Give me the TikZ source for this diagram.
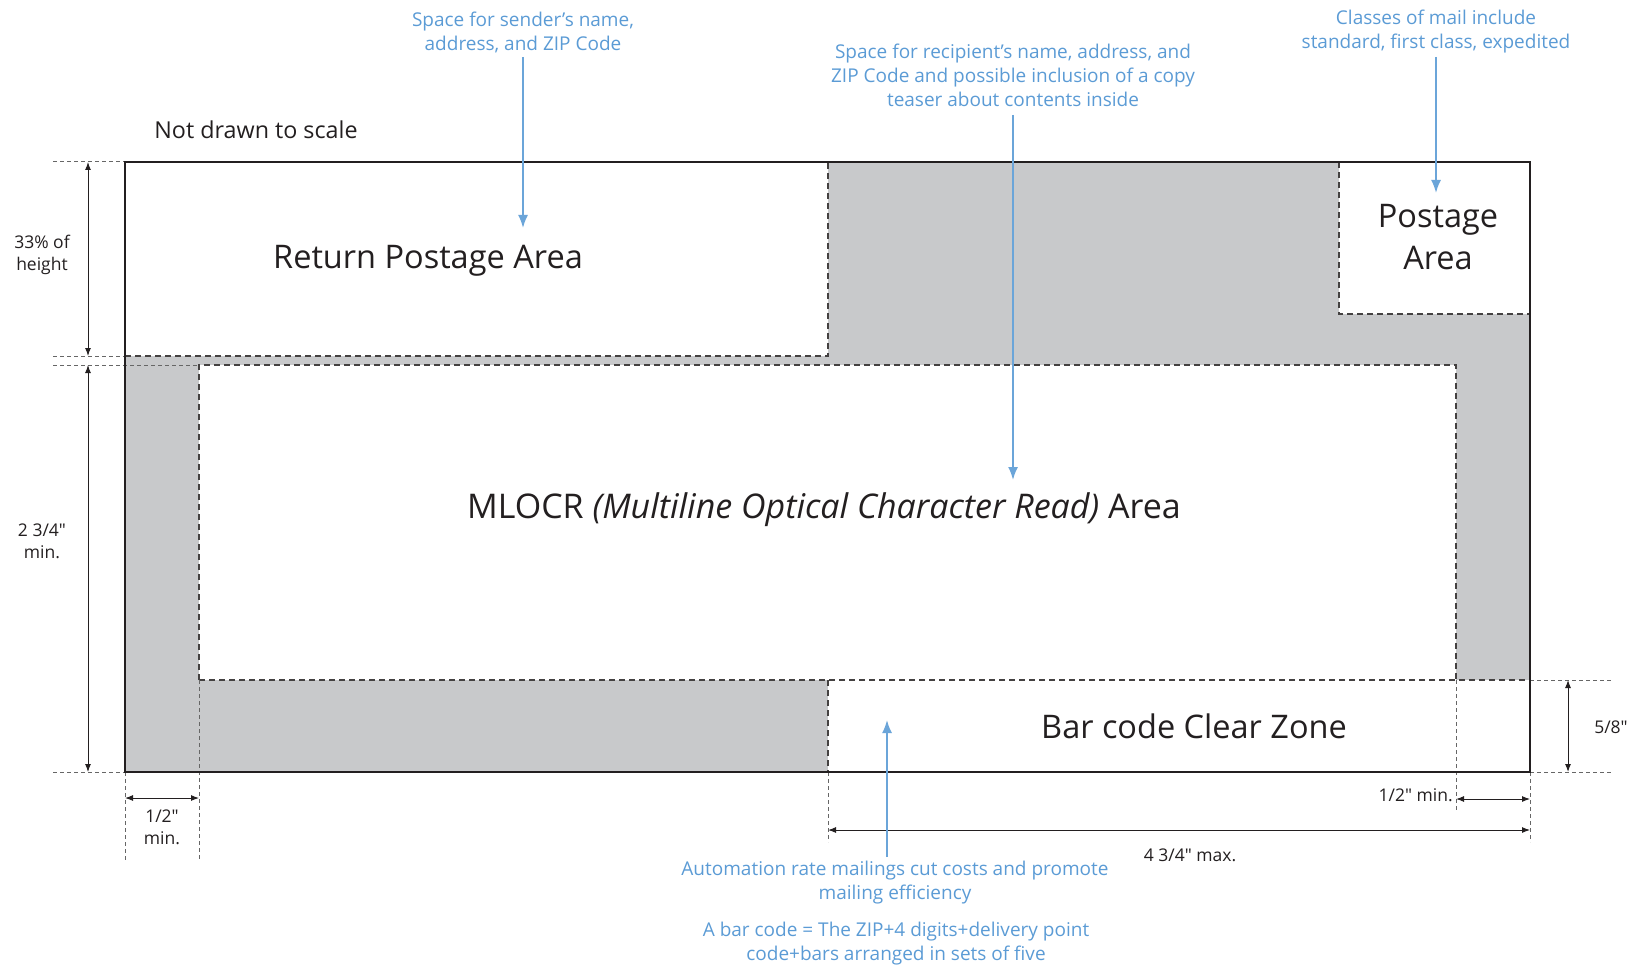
\documentclass[tikz,border=0pt]{standalone}
\usepackage{fontspec}
\newfontfamily\envfont{Open Sans}
\usetikzlibrary{arrows.meta}
\definecolor{envgray}{HTML}{C8C9CB}
\definecolor{noteblue}{HTML}{5B9BD5}
\definecolor{inkblack}{HTML}{231F20}

\begin{document}
\begin{tikzpicture}[x=1pt,y=-1pt,
 every node/.style={align=center,inner sep=0pt},
 zone/.style={font=\envfont\fontsize{32.5}{42}\selectfont,text=inkblack},
 note/.style={font=\envfont\fontsize{19}{24}\selectfont,text=noteblue},
 dimtext/.style={font=\envfont\fontsize{17.5}{22}\selectfont,text=inkblack},
 edge/.style={draw=inkblack,line width=2pt},
 border/.style={draw=inkblack!85,line width=1.2pt,dash pattern=on 6pt off 4pt},
 guide/.style={draw=black!60,line width=1pt,dash pattern=on 4pt off 3pt},
 dim/.style={{Latex[length=8pt,width=6pt]}-{Latex[length=8pt,width=6pt]},draw=inkblack,line width=1pt},
 callout/.style={-{Latex[length=13pt,width=10pt]},draw=noteblue!90,line width=1.8pt}]

\useasboundingbox (0,0) rectangle (1637,965);

\fill[envgray] (125,162) rectangle (1530,772);
\fill[white] (125,162) rectangle (828,356);
\fill[white] (1339,162) rectangle (1530,314);
\fill[white] (199,365) rectangle (1456,680);
\fill[white] (828,680) rectangle (1530,772);

\draw[border] (125,356)--(828,356)--(828,162);
\draw[border] (1339,162)--(1339,314)--(1530,314);
\draw[border] (199,680)--(199,365)--(1456,365)--(1456,680);
\draw[border] (199,680)--(1530,680);
\draw[border] (828,680)--(828,772);

\draw[guide] (53,162)--(125,162);
\draw[guide] (53,356)--(125,356);
\draw[guide] (53,365)--(199,365);
\draw[guide] (53,772)--(125,772);
\draw[guide] (125,772)--(125,860);
\draw[guide] (199,680)--(199,860);
\draw[guide] (1530,680)--(1612,680);
\draw[guide] (1530,772)--(1612,772);
\draw[guide] (1456,680)--(1456,812);
\draw[guide] (1530,772)--(1530,842);
\draw[guide] (828,772)--(828,842);

\draw[edge] (125,162) rectangle (1530,772);

\coordinate (thirdTop) at (88,162);
\coordinate (thirdBot) at (88,356);
\coordinate (ocrTop) at (88,365);
\coordinate (ocrBot) at (88,772);
\coordinate (leftA) at (125,798);
\coordinate (leftB) at (199,798);
\coordinate (clearTop) at (1568,680);
\coordinate (clearBot) at (1568,772);
\coordinate (rightA) at (1456,799);
\coordinate (rightB) at (1530,799);
\coordinate (maxA) at (828,830);
\coordinate (maxB) at (1530,830);

\draw[dim] (thirdTop)--(thirdBot);
\draw[dim] (ocrTop)--(ocrBot);
\draw[dim] (leftA)--(leftB);
\draw[dim] (clearTop)--(clearBot);
\draw[dim] (rightA)--(rightB);
\draw[dim] (maxA)--(maxB);

\node[dimtext] (third) at (42,255) {33\% of\\height};
\node[dimtext] (ocrmin) at (42,541) {2 3/4"\\min.};
\node[dimtext] (leftmin) at (162,827) {1/2"\\min.};
\node[dimtext] (clearh) at (1611,727) {5/8"};
\node[dimtext,anchor=east] (rightmin) at (1453,795) {1/2" min.};
\node[dimtext] (maxw) at (1190,855) {4 3/4" max.};

\node[zone,font=\envfont\fontsize{23.3}{26}\selectfont] (scale) at (256,130) {Not drawn to scale};
\node[zone] (retarea) at (428,261) {Return Postage Area};
\node[zone] (postarea) at (1438,237) {Postage\\Area};
\node[zone,font=\envfont\fontsize{34}{42}\selectfont] (ocrarea) at (824,510) {MLOCR \textit{(Multiline Optical Character Read)} Area};
\node[zone] (cleararea) at (1194,726) {Bar code Clear Zone};

\node[note] (sender) at (523,32) {Space for sender’s name,\\address, and ZIP Code};
\node[note] (recipient) at (1013,75) {Space for recipient’s name, address, and\\ZIP Code and possible inclusion of a copy\\teaser about contents inside};
\node[note] (classes) at (1436,32) {Classes of mail include\\standard, first class, expedited};
\node[note] (automation) at (895,883) {Automation rate mailings cut costs and promote\\mailing efficiency};
\node[note] (barcode) at (896,944) {A bar code = The ZIP+4 digits+delivery point\\code+bars arranged in sets of five};

\coordinate (senderTip) at (523,228);
\coordinate (recipientTip) at (1013,480);
\coordinate (classesTip) at (1436,193);
\coordinate (automationTail) at (887,857);
\coordinate (automationTip) at (887,720);

\draw[callout] (sender.south|-0,57)--(senderTip);
\draw[callout] (recipient.south|-0,115)--(recipientTip);
\draw[callout] (classes.south|-0,57)--(classesTip);
\draw[callout] (automationTail)--(automationTip);
\end{tikzpicture}
\end{document}
